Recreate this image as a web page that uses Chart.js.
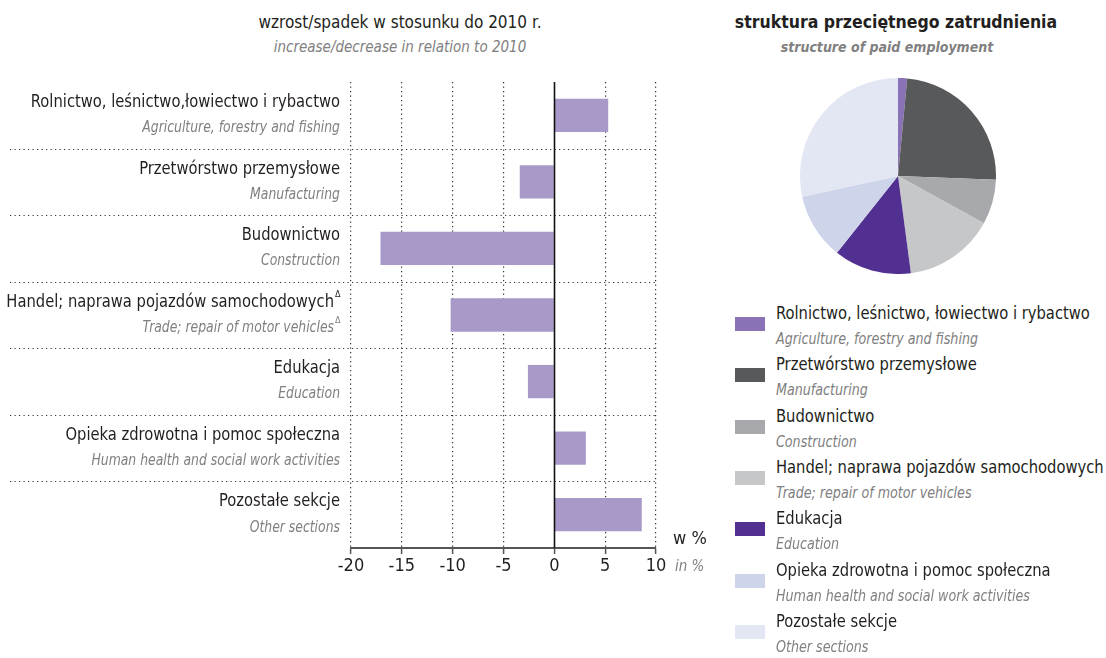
<!DOCTYPE html>
<html lang="pl">
<head>
<meta charset="utf-8">
<title>Przeciętne zatrudnienie</title>
<script src="https://cdn.jsdelivr.net/npm/chart.js@4/dist/chart.umd.min.js"></script>
<style>
  body { margin: 0; background: #fff; }
  #wrap {
    position: relative; width: 1106px; height: 658px; overflow: hidden;
    font-family: "Liberation Sans Narrow", "DejaVu Sans Condensed", "Roboto", sans-serif;
    color: #231f20;
  }
  .t { position: absolute; white-space: nowrap; }
  .main { font-size: 18px; line-height: 26px; color: #231f20; }
  .sub  { font-size: 15px; line-height: 26px; font-style: italic; color: #808080; }
  .sq   { display: inline-block; transform-origin: left center; }
  #barCanvas { position: absolute; left: 0; top: 0; }
  #pieCanvas { position: absolute; left: 800px; top: 78px; }
  .item { position: absolute; left: 735px; width: 371px; height: 52px; }
  .swatch { position: absolute; left: 0; top: 17px; width: 30px; height: 14px; }
  .item .main, .item .sub { position: absolute; left: 41px; white-space: nowrap; }
  .item .main { top: 0; }
  .item .sub  { top: 26px; }
  .item .main .sq { transform: scaleX(0.91); }
  .item .sub .sq  { transform: scaleX(0.94); }
</style>
</head>
<body>
<div id="wrap">
  <div class="t main" style="left:0;width:800px;text-align:center;top:9px;font-size:17px;">wzrost/spadek w stosunku do 2010 r.</div>
  <div class="t sub"  style="left:0;width:800px;text-align:center;top:34px;">increase/decrease in relation to 2010</div>

  <div class="t main" style="left:701px;width:390px;text-align:center;top:9px;font-size:17.5px;font-weight:bold;">struktura przeciętnego zatrudnienia</div>
  <div class="t sub"  style="left:692px;width:390px;text-align:center;top:34px;font-size:14px;font-weight:bold;">structure of paid employment</div>

  <canvas id="barCanvas" width="720" height="600"></canvas>
  <canvas id="pieCanvas" width="196" height="196"></canvas>

  <div class="t main" style="left:673px;top:525px;">w %</div>
  <div class="t sub"  style="left:675px;top:553px;">in %</div>

  <div id="legend"></div>
</div>

<script>
// ─── Dane ───
const barLabelsPl = [
  'Rolnictwo, leśnictwo,łowiectwo i rybactwo',
  'Przetwórstwo przemysłowe',
  'Budownictwo',
  'Handel; naprawa pojazdów samochodowych',
  'Edukacja',
  'Opieka zdrowotna i pomoc społeczna',
  'Pozostałe sekcje'
];
const legendLabelsPl = [
  'Rolnictwo, leśnictwo, łowiectwo i rybactwo',
  'Przetwórstwo przemysłowe',
  'Budownictwo',
  'Handel; naprawa pojazdów samochodowych',
  'Edukacja',
  'Opieka zdrowotna i pomoc społeczna',
  'Pozostałe sekcje'
];
const labelsEn = [
  'Agriculture, forestry and fishing',
  'Manufacturing',
  'Construction',
  'Trade; repair of motor vehicles',
  'Education',
  'Human health and social work activities',
  'Other sections'
];
const deltaMarked = [false, false, false, true, false, false, false];

// zmiana w % wzgl. 2010
const changeValues = [5.3, -3.4, -17.1, -10.2, -2.6, 3.1, 8.6];
// struktura przeciętnego zatrudnienia (%)
const structureShares = [1.5, 24.1, 7.4, 14.9, 12.8, 10.9, 28.4];

const xMin = -20, xMax = 10, xStep = 5;

const BAR_COLOR = '#a899c8';
const sliceColors = ['#8a72b6', '#58595b', '#a7a9ac', '#c6c7c9', '#523091', '#ced4ea', '#e3e6f3'];

const FONT = '"Liberation Sans Narrow", "DejaVu Sans Condensed", "Roboto", sans-serif';

// texte compressé horizontalement (police étroite)
function squeezeText(ctx, text, x, y, sx) {
  ctx.save();
  ctx.translate(x, y);
  ctx.scale(sx, 1);
  ctx.fillText(text, 0, 0);
  const w = ctx.measureText(text).width * sx;
  ctx.restore();
  return w;
}

// ─── Plugin : séparateurs, ligne zéro, étiquettes ───
const labelPlugin = {
  id: 'labelPlugin',
  beforeDatasetsDraw(chart) {
    const { ctx, chartArea, scales: { y } } = chart;
    ctx.save();
    ctx.strokeStyle = '#333';
    ctx.lineWidth = 1.2;
    ctx.setLineDash([1.2, 3.3]);
    for (let i = 0; i < barLabelsPl.length - 1; i++) {
      const yy = Math.round((y.getPixelForValue(i) + y.getPixelForValue(i + 1)) / 2) + 0.5;
      ctx.beginPath();
      ctx.moveTo(10, yy);
      ctx.lineTo(chartArea.right, yy);
      ctx.stroke();
    }
    ctx.restore();
  },
  afterDatasetsDraw(chart) {
    const { ctx, chartArea, scales: { x, y } } = chart;
    ctx.save();
    // ligne zéro
    const x0 = Math.round(x.getPixelForValue(0)) + 0.5;
    ctx.strokeStyle = '#111';
    ctx.lineWidth = 1.6;
    ctx.beginPath();
    ctx.moveTo(x0, chartArea.top);
    ctx.lineTo(x0, chartArea.bottom);
    ctx.stroke();

    // étiquettes des catégories
    const right = chartArea.left - 11;
    ctx.textAlign = 'right';
    ctx.textBaseline = 'middle';
    barLabelsPl.forEach((lab, i) => {
      const cy = y.getPixelForValue(i);
      const offs = deltaMarked[i] ? 6 : 0;
      ctx.font = '18px ' + FONT;
      ctx.fillStyle = '#231f20';
      squeezeText(ctx, lab, right - offs, cy - 13, 0.91);
      ctx.font = 'italic 15px ' + FONT;
      ctx.fillStyle = '#808080';
      squeezeText(ctx, labelsEn[i], right - offs, cy + 13, 0.92);
      if (deltaMarked[i]) {
        ctx.font = '9px ' + FONT;
        ctx.textAlign = 'left';
        ctx.fillStyle = '#231f20';
        ctx.fillText('Δ', right - offs + 1, cy - 20);
        ctx.fillStyle = '#808080';
        ctx.fillText('Δ', right - offs + 1, cy + 6);
        ctx.textAlign = 'right';
      }
    });
    ctx.restore();
  }
};

// ─── Graphique barres ───
new Chart(document.getElementById('barCanvas'), {
  type: 'bar',
  data: {
    labels: barLabelsPl,
    datasets: [{
      data: changeValues,
      backgroundColor: BAR_COLOR,
      borderWidth: 0,
      categoryPercentage: 0.5,
      barPercentage: 1
    }]
  },
  options: {
    indexAxis: 'y',
    responsive: false,
    devicePixelRatio: 1,
    animation: false,
    layout: { padding: { left: 351, right: 64, top: 82, bottom: 12 } },
    plugins: { legend: { display: false }, tooltip: { enabled: false } },
    scales: {
      y: { display: false },
      x: {
        min: xMin, max: xMax,
        afterFit: (s) => { s.height = 40; },
        ticks: {
          stepSize: xStep,
          color: '#231f20',
          font: { family: FONT, size: 18 },
          padding: 2
        },
        grid: {
          color: (c) => c.tick && c.tick.value === 0 ? 'rgba(0,0,0,0)' : '#333',
          lineWidth: 1.2,
          tickColor: '#555',
          tickWidth: 1.5,
          tickLength: 6
        },
        border: { display: true, color: '#555', width: 2, dash: [1.2, 3.3] }
      }
    }
  },
  plugins: [labelPlugin]
});

// ─── Camembert ───
new Chart(document.getElementById('pieCanvas'), {
  type: 'pie',
  data: {
    labels: legendLabelsPl,
    datasets: [{
      data: structureShares,
      backgroundColor: sliceColors,
      borderWidth: 0
    }]
  },
  options: {
    responsive: false,
    devicePixelRatio: 1,
    animation: false,
    plugins: { legend: { display: false }, tooltip: { enabled: false } }
  }
});

// ─── Légende ───
const legendEl = document.getElementById('legend');
legendLabelsPl.forEach((lab, i) => {
  const item = document.createElement('div');
  item.className = 'item';
  item.style.top = (300 + i * 51.3) + 'px';
  item.innerHTML =
    `<div class="swatch" style="background:${sliceColors[i]}"></div>` +
    `<div class="main"><span class="sq">${lab}</span></div>` +
    `<div class="sub"><span class="sq">${labelsEn[i]}</span></div>`;
  legendEl.appendChild(item);
});
</script>
</body>
</html>
